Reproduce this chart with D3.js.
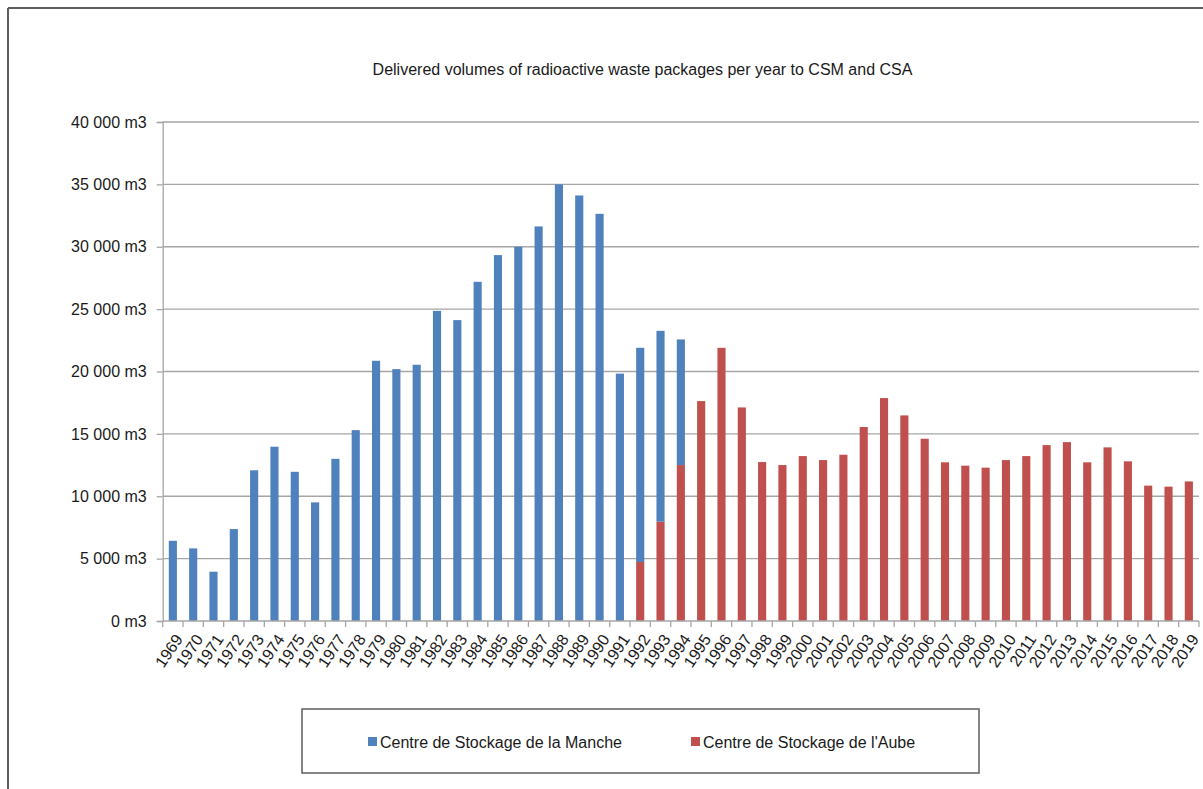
<!DOCTYPE html>
<html>
<head>
<meta charset="utf-8">
<script src="https://cdn.jsdelivr.net/npm/d3@7"></script>
<style>
  html, body { margin: 0; padding: 0; background: #ffffff; }
  svg { display: block; }
  text { font-family: "Liberation Sans", Arial, sans-serif; fill: #1a1a1a; }
</style>
</head>
<body>
<svg id="chart" width="1203" height="789"></svg>
<script>
const years = [];
for (let y = 1969; y <= 2019; y++) years.push(String(y));

// Centre de Stockage de la Manche (m3)
const manche = [6430, 5820, 3950, 7370, 12080, 13970, 11960, 9510, 13000, 15300,
  20860, 20190, 20540, 24860, 24120, 27190, 29330, 29990, 31630, 35000,
  34110, 32640, 19830, 17170, 15300, 10070, 0, 0, 0, 0,
  0, 0, 0, 0, 0, 0, 0, 0, 0, 0,
  0, 0, 0, 0, 0, 0, 0, 0, 0, 0, 0];
// Centre de Stockage de l'Aube (m3)
const aube = [0, 0, 0, 0, 0, 0, 0, 0, 0, 0,
  0, 0, 0, 0, 0, 0, 0, 0, 0, 0,
  0, 0, 0, 4730, 7960, 12500, 17630, 21900, 17120, 12740,
  12500, 13220, 12900, 13330, 15550, 17870, 16480, 14610, 12720, 12450,
  12290, 12900, 13220, 14100, 14340, 12720, 13920, 12800, 10850, 10770, 11190];

const yTicks = [0, 5000, 10000, 15000, 20000, 25000, 30000, 35000, 40000];
const seriesNames = ["Centre de Stockage de la Manche", "Centre de Stockage de l'Aube"];
const seriesColors = ["#4F81BD", "#C0504D"];
const title = "Delivered volumes of radioactive waste packages per year to CSM and CSA";

const svg = d3.select("#chart");

// outer frame (top and left edges visible)
svg.append("line").attr("x1", 8).attr("y1", 8).attr("x2", 1203).attr("y2", 8)
  .attr("stroke", "#5e5e5e").attr("stroke-width", 2);
svg.append("line").attr("x1", 8).attr("y1", 8).attr("x2", 8).attr("y2", 789)
  .attr("stroke", "#5e5e5e").attr("stroke-width", 2);

const x0 = 162.7, x1 = 1199, yTop = 122, yBot = 621;

const x = d3.scaleBand().domain(years).range([x0, x1]).paddingInner(0.6).paddingOuter(0.3);
const y = d3.scaleLinear().domain([0, 40000]).range([yBot, yTop]);

// title
svg.append("text").attr("x", 642.5).attr("y", 75).attr("text-anchor", "middle")
  .style("font-size", "16px").text(title);

// gridlines
svg.append("g").selectAll("line").data(yTicks.filter(d => d > 0)).join("line")
  .attr("x1", x0).attr("x2", x1)
  .attr("y1", d => y(d)).attr("y2", d => y(d))
  .attr("stroke", "#a6a6a6").attr("stroke-width", 1.3);

// y axis
const fmt = d => d3.format(",")(d).replace(/,/g, " ") + " m3";
const yAxis = d3.axisLeft(y).tickValues(yTicks).tickSize(6).tickPadding(10).tickFormat(fmt);
const gy = svg.append("g").attr("transform", `translate(${x0},0)`).call(yAxis);
gy.select(".domain").attr("stroke", "#a6a6a6").attr("stroke-width", 1.3);
gy.selectAll(".tick line").attr("stroke", "#a6a6a6").attr("stroke-width", 1.3);
gy.selectAll(".tick text").style("font-size", "16px").attr("fill", "#1a1a1a")
  .style("font-family", '"Liberation Sans", Arial, sans-serif');

// stacked data
const rows = years.map((yr, i) => ({ year: yr, aube: aube[i], manche: manche[i] }));
const stack = d3.stack().keys(["aube", "manche"]);
const stacked = stack(rows);
const colorFor = { aube: seriesColors[1], manche: seriesColors[0] };

svg.append("g").selectAll("g").data(stacked).join("g")
  .attr("fill", d => colorFor[d.key])
  .selectAll("rect").data(d => d.filter(p => p[1] - p[0] > 0)).join("rect")
  .attr("x", d => x(d.data.year))
  .attr("width", x.bandwidth())
  .attr("y", d => y(d[1]))
  .attr("height", d => y(d[0]) - y(d[1]));

// x axis baseline and ticks at band boundaries
const step = x.step();
const boundaries = d3.range(years.length + 1).map(i => x0 + i * step);
svg.append("line").attr("x1", x0).attr("x2", x1).attr("y1", yBot).attr("y2", yBot)
  .attr("stroke", "#a6a6a6").attr("stroke-width", 1.3);
svg.append("g").selectAll("line").data(boundaries).join("line")
  .attr("x1", d => d).attr("x2", d => d).attr("y1", yBot).attr("y2", yBot + 6)
  .attr("stroke", "#a6a6a6").attr("stroke-width", 1.3);

// x labels rotated
svg.append("g").selectAll("text").data(years).join("text")
  .attr("transform", d => `translate(${x(d) + x.bandwidth() / 2 + 6},${yBot + 15}) rotate(-56)`)
  .attr("text-anchor", "end")
  .attr("dy", "0.35em")
  .style("font-size", "16px")
  .text(d => d);

// legend
const lg = svg.append("g");
lg.append("rect").attr("x", 302).attr("y", 709).attr("width", 677).attr("height", 64)
  .attr("fill", "none").attr("stroke", "#5e5e5e").attr("stroke-width", 1.5);
const legendItems = [
  { name: seriesNames[0], color: seriesColors[0], sx: 368 },
  { name: seriesNames[1], color: seriesColors[1], sx: 691 }
];
const li = lg.selectAll("g.item").data(legendItems).join("g").attr("class", "item");
li.append("rect").attr("x", d => d.sx).attr("y", 737).attr("width", 9).attr("height", 9)
  .attr("fill", d => d.color);
li.append("text").attr("x", d => d.sx + 12).attr("y", 742).attr("dy", "0.35em")
  .style("font-size", "16px").text(d => d.name);
</script>
</body>
</html>
